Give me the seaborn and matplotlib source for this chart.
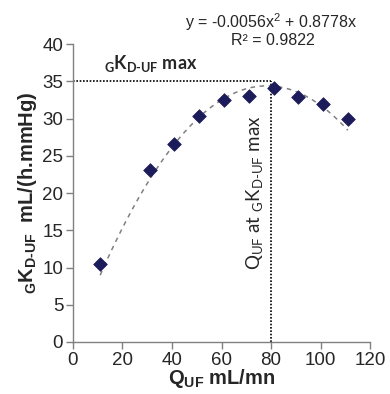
import numpy as np
import pandas as pd
import seaborn as sns
from matplotlib import pyplot as plt

# measured points
q_uf = [11, 31, 41, 51, 61, 71, 81, 91, 101, 111]
gk_duf = [10.5, 23.1, 26.6, 30.4, 32.5, 33.1, 34.1, 32.9, 32.0, 29.9]

# polynomial trend line printed on the chart
a2, a1 = -0.0056, 0.8778
r2 = 0.9822
k_max = 35
q_at_max = 80

xticks = [0, 20, 40, 60, 80, 100, 120]
yticks = [0, 5, 10, 15, 20, 25, 30, 35, 40]

sns.set_theme(style="ticks")
plt.rcParams["font.family"] = ["Liberation Sans", "DejaVu Sans"]
plt.rcParams["mathtext.fontset"] = "custom"
plt.rcParams["mathtext.rm"] = "Liberation Sans"

df = pd.DataFrame({"q": q_uf, "k": gk_duf})
xf = np.linspace(min(q_uf), max(q_uf), 200)
fit = pd.DataFrame({"q": xf, "k": a2 * xf**2 + a1 * xf})

fig = plt.figure(figsize=(3.9, 3.94), dpi=100)
ax = fig.add_axes([0.187, 0.132, 0.762, 0.756])

sns.lineplot(data=fit, x="q", y="k", ax=ax, color="#808080", lw=1.1,
             linestyle=(0, (3, 3)), zorder=2)
sns.scatterplot(data=df, x="q", y="k", ax=ax, marker="D", s=48,
                color="#1c1c5c", edgecolor="#1c1c5c", zorder=3)

ax.plot([0, q_at_max], [k_max, k_max], color="black", lw=1.2,
        linestyle=(0, (1, 1)), zorder=1)
ax.plot([q_at_max, q_at_max], [0, k_max], color="black", lw=1.2,
        linestyle=(0, (1, 1)), zorder=1)

ax.set_xlim(0, 120)
ax.set_ylim(0, 40)
ax.set_xticks(xticks)
ax.set_yticks(yticks)
ax.tick_params(labelsize=13.5, length=5, width=1, color="#808080", pad=2)
for s in ["left", "bottom"]:
    ax.spines[s].set_color("#808080")
    ax.spines[s].set_linewidth(1)
sns.despine(ax=ax)

hy = "\u2010"
ax.set_xlabel(r"Q$_\mathregular{UF}$ mL/mn", fontsize=14.5, fontweight="bold",
              labelpad=-1)
ax.set_ylabel(r"$_\mathregular{G}$K$_\mathregular{D" + hy + r"UF}$  mL/(h.mmHg)",
              fontsize=14.5, fontweight="bold", labelpad=2)

ax.text(12.5, 36.0, r"$_\mathregular{G}$K$_\mathregular{D" + hy + r"UF}$ max",
        fontsize=13, fontweight="bold", family=["Lato", "DejaVu Sans"],
        ha="left", va="bottom")
ax.text(73.5, 20,
        r"Q$_\mathregular{UF}$ at $_\mathregular{G}$K$_\mathregular{D" + hy + r"UF}$ max",
        fontsize=13.5, family=["Lato", "DejaVu Sans"], rotation=90,
        ha="center", va="center")

fig.text(0.695, 0.945, "y = -0.0056x$^\\mathregular{2}$ + 0.8778x", fontsize=11.5,
         ha="center", va="center")
fig.text(0.70, 0.898, "R\u00b2 = " + f"{r2:.4f}", fontsize=11.5,
         ha="center", va="center")

fig.savefig("out.png", dpi=100)
